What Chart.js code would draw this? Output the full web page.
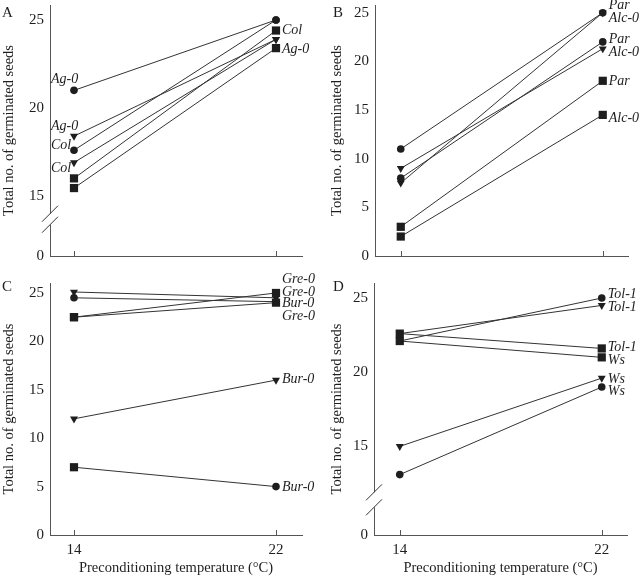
<!DOCTYPE html>
<html>
<head>
<meta charset="utf-8">
<script src="https://cdn.jsdelivr.net/npm/chart.js@4"></script>
<style>
  body { margin: 0; background: #fff; }
  #wrap { position: relative; width: 640px; height: 578px; }
  .pane { position: absolute; }
</style>
</head>
<body>
<div id="wrap">
  <div class="pane" style="left:0;top:0;width:320px;height:270px"><canvas id="chartA"></canvas></div>
  <div class="pane" style="left:320px;top:0;width:320px;height:270px"><canvas id="chartB"></canvas></div>
  <div class="pane" style="left:0;top:270px;width:320px;height:308px"><canvas id="chartC"></canvas></div>
  <div class="pane" style="left:320px;top:270px;width:320px;height:308px"><canvas id="chartD"></canvas></div>
</div>
<script>
// preconditioning temperatures (x categories)
const temps = [14, 22];

// panel A: Ag-0 / Col, values at 14 and 22 degrees
const aValues = [[15.45, 23.4], [16.0, 24.4], [21.0, 25.0], [17.6, 25.0], [18.4, 23.9], [16.9, 23.9]];
const aMarkers = [['rect', 'rect'], ['rect', 'rect'], ['circle', 'circle'], ['circle', 'circle'], ['tri', 'tri'], ['tri', 'tri']];
const aLabels = [['Ag-0', 14, 21.65], ['Ag-0', 14, 18.98], ['Col', 14, 17.86], ['Col', 14, 16.6], ['Col', 22, 24.39], ['Ag-0', 22, 23.34]];
const aTicks = [0, 15, 20, 25];

// panel B: Par / Alc-0
const bValues = [[3, 18], [2, 14.5], [11, 25], [8, 22], [7.5, 25], [9, 21.3]];
const bMarkers = [['rect', 'rect'], ['rect', 'rect'], ['circle', 'circle'], ['circle', 'circle'], ['tri', 'tri'], ['tri', 'tri']];
const bLabels = [['Par', 22, 25.8], ['Alc-0', 22, 24.43], ['Par', 22, 22.3], ['Alc-0', 22, 20.94], ['Par', 22, 17.9], ['Alc-0', 22, 14.1]];
const bTicks = [0, 5, 10, 15, 20, 25];

// panel C: Gre-0 / Bur-0
const cValues = [[22.5, 25.0], [22.5, 24.0], [7, 5], [25.1, 24.5], [24.5, 24.1], [12, 16]];
const cMarkers = [['rect', 'rect'], ['rect', 'rect'], ['rect', 'circle'], ['tri', 'tri'], ['circle', 'circle'], ['tri', 'tri']];
const cLabels = [['Gre-0', 22, 26.44], ['Gre-0', 22, 25.06], ['Bur-0', 22, 23.96], ['Gre-0', 22, 22.57], ['Bur-0', 22, 16.03], ['Bur-0', 22, 4.93]];
const cTicks = [0, 5, 10, 15, 20, 25];

// panel D: Tol-1 / Ws
const dValues = [[22.6, 21.6], [22.1, 21.0], [22.1, 25.0], [22.6, 24.5], [15, 19.6], [13.1, 19.0]];
const dMarkers = [['rect', 'rect'], ['rect', 'rect'], ['circle', 'circle'], ['tri', 'tri'], ['tri', 'tri'], ['circle', 'circle']];
const dLabels = [['Tol-1', 22, 25.22], ['Tol-1', 22, 24.39], ['Tol-1', 22, 21.69], ['Ws', 22, 20.83], ['Ws', 22, 19.53], ['Ws', 22, 18.69]];
const dTicks = [0, 15, 20, 25];

const SERIF = '"Liberation Serif", "Times New Roman", serif';
const INK = '#1e1e1e';
const AXIS = '#555';

// marker look
const styleOf = { rect: 'rect', circle: 'circle', tri: 'triangle' };
const radiusOf = { rect: 5.8, circle: 3.8, tri: 4.6 };

function makeDatasets(values, markers) {
  return values.map((v, i) => ({
    data: temps.map((t, j) => ({ x: t, y: v[j] })),
    showLine: true,
    borderColor: '#333',
    borderWidth: 1,
    pointStyle: markers[i].map(m => styleOf[m]),
    pointRadius: markers[i].map(m => radiusOf[m]),
    pointRotation: markers[i].map(m => m === 'tri' ? 180 : 0),
    pointBackgroundColor: INK,
    pointBorderColor: INK,
    pointBorderWidth: 0,
    clip: false
  }));
}

const extras = {
  id: 'extras',
  afterDraw(chart, args, o) {
    const ctx = chart.ctx, xs = chart.scales.x, ys = chart.scales.y;
    ctx.save();
    // small inward ticks on the x axis
    ctx.strokeStyle = AXIS;
    ctx.lineWidth = 1;
    temps.forEach(t => {
      const px = Math.round(xs.getPixelForValue(t)) + 0.5;
      ctx.beginPath();
      ctx.moveTo(px, ys.bottom);
      ctx.lineTo(px, ys.bottom - 5);
      ctx.stroke();
    });
    // axis break
    if (o.brk) {
      const cy = ys.getPixelForValue(o.brk.at);
      const ax = xs.left;
      ctx.fillStyle = '#fff';
      ctx.fillRect(ax - 2, cy - o.brk.gap, 4, o.brk.gap * 2);
      ctx.strokeStyle = '#333';
      [-o.brk.gap, o.brk.gap].forEach(d => {
        ctx.beginPath();
        ctx.moveTo(ax - 8, cy + d + 8);
        ctx.lineTo(ax + 8, cy + d - 8);
        ctx.stroke();
      });
    }
    // strain labels
    ctx.fillStyle = INK;
    ctx.font = 'italic 14px ' + SERIF;
    ctx.textBaseline = 'middle';
    ctx.textAlign = 'left';
    o.labels.forEach(([txt, x, y]) => {
      const px = xs.getPixelForValue(x) + (x === 22 ? 6 : -23);
      ctx.fillText(txt, px, ys.getPixelForValue(y));
    });
    // panel letter
    ctx.font = '15px ' + SERIF;
    ctx.fillText(o.letter, o.letterX, o.letterY);
    ctx.restore();
  }
};

function makeChart(id, cfg) {
  const floor = cfg.floor;
  return new Chart(document.getElementById(id), {
    type: 'scatter',
    data: { datasets: makeDatasets(cfg.values, cfg.markers) },
    options: {
      responsive: true,
      maintainAspectRatio: false,
      animation: false,
      events: [],
      layout: { autoPadding: false, padding: { left: 0, right: cfg.padRight, top: cfg.padTop, bottom: 0 } },
      plugins: {
        legend: { display: false },
        tooltip: { enabled: false },
        extras: { labels: cfg.labels, letter: cfg.letter, letterX: cfg.letterX, letterY: cfg.letterY, brk: cfg.brk }
      },
      scales: {
        x: {
          type: 'linear',
          min: cfg.xMin,
          max: cfg.xMax,
          afterBuildTicks: s => { s.ticks = temps.map(v => ({ value: v })); },
          afterFit: s => { s.height = cfg.xHeight; s.paddingLeft = 0; s.paddingRight = 0; },
          grid: { display: false, drawTicks: false },
          border: { color: AXIS, width: 1 },
          ticks: { display: cfg.showX, color: INK, padding: 6, font: { family: SERIF, size: 15 } },
          title: {
            display: cfg.showX,
            text: 'Preconditioning temperature (°C)',
            color: INK,
            padding: { top: 0, bottom: 1 },
            font: { family: SERIF, size: 14.5 }
          }
        },
        y: {
          type: 'linear',
          min: floor,
          max: cfg.yMax,
          afterBuildTicks: s => { s.ticks = cfg.ticks.map(v => ({ value: v === 0 ? floor : v })); },
          afterFit: s => { s.width = cfg.yWidth; s.paddingTop = 0; s.paddingBottom = 0; },
          grid: { display: false, drawTicks: false },
          border: { color: AXIS, width: 1 },
          ticks: {
            color: INK,
            padding: 6,
            font: { family: SERIF, size: 15 },
            callback: v => (v === floor ? '0' : String(v))
          },
          title: {
            display: true,
            text: 'Total no. of germinated seeds',
            color: INK,
            padding: { top: cfg.titlePad, bottom: 0 },
            font: { family: SERIF, size: 14.5 }
          }
        }
      }
    },
    plugins: [extras]
  });
}

makeChart('chartA', {
  values: aValues, markers: aMarkers, labels: aLabels, ticks: aTicks,
  floor: 11.59, yMax: 25.85, xMin: 13.05, xMax: 23.03,
  yWidth: 50, xHeight: 14, padTop: 5, padRight: 18, titlePad: 0, showX: false,
  letter: 'A', letterX: 2, letterY: 13, brk: { at: 13.68, gap: 5.5 }
});
makeChart('chartB', {
  values: bValues, markers: bMarkers, labels: bLabels, ticks: bTicks,
  floor: 0, yMax: 25.79, xMin: 12.98, xMax: 23.0,
  yWidth: 55, xHeight: 14, padTop: 5, padRight: 12, titlePad: 8, showX: false,
  letter: 'B', letterX: 13, letterY: 13
});
makeChart('chartC', {
  values: cValues, markers: cMarkers, labels: cLabels, ticks: cTicks,
  floor: 0, yMax: 26.03, xMin: 13.05, xMax: 23.03,
  yWidth: 50, xHeight: 43, padTop: 13, padRight: 18, titlePad: 0, showX: true,
  letter: 'C', letterX: 2, letterY: 17
});
makeChart('chartD', {
  values: dValues, markers: dMarkers, labels: dLabels, ticks: dTicks,
  floor: 9.03, yMax: 26.01, xMin: 12.98, xMax: 23.0,
  yWidth: 54, xHeight: 43, padTop: 13, padRight: 13, titlePad: 8, showX: true,
  letter: 'D', letterX: 13, letterY: 17, brk: { at: 11.4, gap: 7.5 }
});
</script>
</body>
</html>
